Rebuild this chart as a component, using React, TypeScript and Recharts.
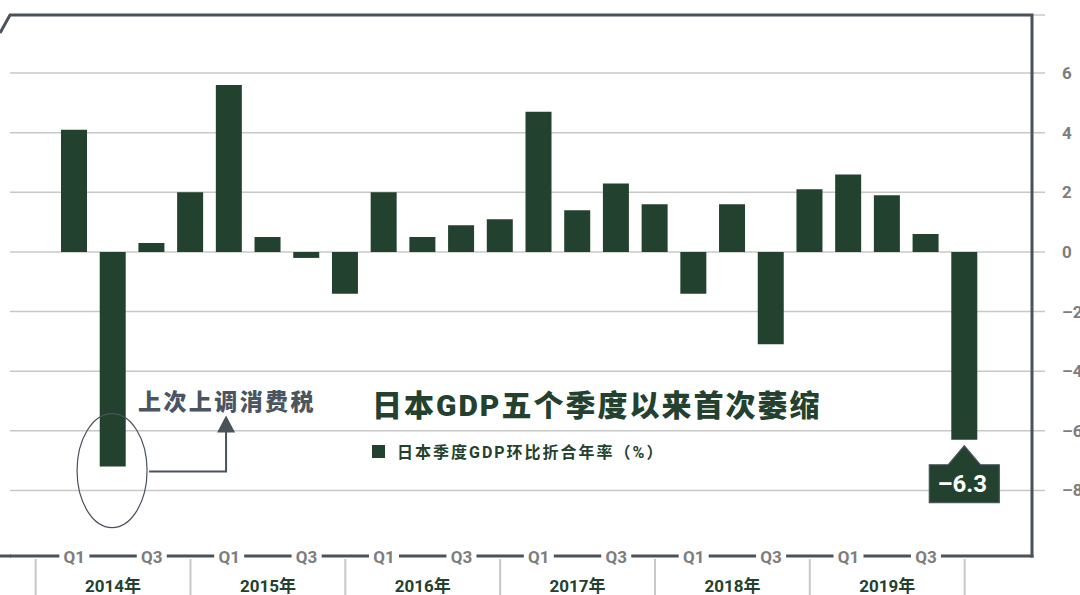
import React from 'react';
import { BarChart, Bar, XAxis, YAxis, CartesianGrid, ReferenceDot, LabelList, Legend } from 'recharts';

// ---------- data ----------
const quarters = [
  '2014Q1', '2014Q2', '2014Q3', '2014Q4',
  '2015Q1', '2015Q2', '2015Q3', '2015Q4',
  '2016Q1', '2016Q2', '2016Q3', '2016Q4',
  '2017Q1', '2017Q2', '2017Q3', '2017Q4',
  '2018Q1', '2018Q2', '2018Q3', '2018Q4',
  '2019Q1', '2019Q2', '2019Q3', '2019Q4',
];
const gdpGrowth = [
  4.1, -7.2, 0.3, 2.0,
  5.6, 0.5, -0.2, -1.4,
  2.0, 0.5, 0.9, 1.1,
  4.7, 1.4, 2.3, 1.6,
  -1.4, 1.6, -3.1, 2.1,
  2.6, 1.9, 0.6, -6.3,
];
const yearLabels = ['2014年', '2015年', '2016年', '2017年', '2018年', '2019年'];
const yTicks = [-8, -6, -4, -2, 0, 2, 4, 6];
const yDomain = [-10.2, 7.95];
const chartTitle = '日本GDP五个季度以来首次萎缩';
const seriesName = '日本季度GDP环比折合年率（%）';
const annotationText = '上次上调消费税';
const annotatedQuarter = '2014Q2';

const data = quarters.map((q, i) => ({ q, v: gdpGrowth[i] }));

// ---------- layout & style ----------
const W = 1080;
const H = 595;
const MARGIN = { top: 15, right: 0, bottom: 0, left: 10 };
const Y_AXIS_W = 35;
const X_AXIS_H = 39;
const PLOT_L = MARGIN.left;
const PLOT_R = W - Y_AXIS_W;
const PLOT_T = MARGIN.top;
const PLOT_B = H - X_AXIS_H;
const PAD_L = 45;
const PAD_R = 61;
const SLOT = (PLOT_R - PLOT_L - PAD_L - PAD_R) / quarters.length;
const FRAME_R = 1032;

const BAR = '#23412f';
const FRAME = '#4a525c';
const GRID = '#c8c8c8';
const TICK_GRAY = '#7d7d7d';
const GREEN_TEXT = '#23412e';
const NOTE = '#4a5560';
const FONT = "Roboto, 'Noto Sans CJK SC', sans-serif";

const fmt = (v: number) => (v < 0 ? `\u2013${Math.abs(v)}` : `${v}`);

const XTick = (props: any) => {
  const { x, payload } = props;
  const i = quarters.indexOf(payload.value);
  const qn = i % 4;
  const yr = Math.floor(i / 4);
  const out: React.ReactNode[] = [];
  if (qn === 0 || qn === 2) {
    out.push(<rect key="bg" x={x - 15} y={PLOT_B - 10} width={30} height={20} fill="#fff" />);
    out.push(
      <text key="q" x={x} y={PLOT_B + 1} dy="0.35em" textAnchor="middle" fontFamily={FONT}
        fontWeight={700} fontSize={17} fill={TICK_GRAY}>{payload.value.slice(4)}</text>
    );
  }
  if (qn === 1) {
    out.push(
      <text key="y" x={x} y={H - 3} textAnchor="middle" fontFamily={FONT}
        fontWeight={700} fontSize={17} fill={GREEN_TEXT}>{yearLabels[yr]}</text>
    );
  }
  if (qn === 3) {
    out.push(<line key="s" x1={x} x2={x} y1={PLOT_B + 3} y2={H} stroke={GRID} strokeWidth={2} />);
  }
  if (i === 0) {
    out.push(<line key="s0" x1={x - SLOT} x2={x - SLOT} y1={PLOT_B + 3} y2={H} stroke={GRID} strokeWidth={2} />);
  }
  return <g>{out}</g>;
};

const YTick = (props: any) => {
  const { y, payload } = props;
  return (
    <text x={PLOT_R + 17} y={y} dy="0.35em" textAnchor="start" fontFamily={FONT}
      fontWeight={700} fontSize={17} fill={TICK_GRAY}>{fmt(payload.value)}</text>
  );
};

const ValueTag = (props: any) => {
  const { index, value } = props;
  if (index !== quarters.length - 1) return null;
  const x = Number(props.x);
  const y = Number(props.y);
  const w = Number(props.width);
  const h = Number(props.height);
  const cx = x + w / 2;
  const end = Math.max(y, y + h);
  const d = `M${cx - 35},${end + 25} L${cx - 16},${end + 25} L${cx},${end + 6} L${cx + 16},${end + 25} L${cx + 35},${end + 25} L${cx + 35},${end + 63} L${cx - 35},${end + 63} Z`;
  return (
    <g>
      <path d={d} fill={BAR} stroke={FRAME} strokeWidth={1.2} />
      <text x={cx - 2} y={end + 44} dy="0.35em" textAnchor="middle" fontFamily={FONT}
        fontWeight={700} fontSize={24} fill="#fff">{fmt(value)}</text>
    </g>
  );
};

const NoteShape = (props: any) => {
  const { cx, cy } = props;
  return (
    <g>
      <ellipse cx={cx - 1} cy={cy + 4} rx={35} ry={57} fill="none" stroke={FRAME} strokeWidth={1.2} />
      <polyline points={`${cx + 36},${cy + 5} ${cx + 113},${cy + 5} ${cx + 113},${cy - 35}`}
        fill="none" stroke={FRAME} strokeWidth={2} />
      <polygon points={`${cx + 113},${cy - 51} ${cx + 104},${cy - 34} ${cx + 122},${cy - 34}`} fill={FRAME} />
      <text x={cx + 25} y={cy - 57} fontFamily={FONT} fontWeight={900} fontSize={23}
        letterSpacing={2.4} fill={NOTE}>{annotationText}</text>
    </g>
  );
};

const TitleLegend = () => (
  <div style={{ fontFamily: FONT, color: GREEN_TEXT, whiteSpace: 'nowrap' }}>
    <div style={{ fontSize: 30, fontWeight: 900, lineHeight: '36px', letterSpacing: 2 }}>{chartTitle}</div>
    <div style={{ display: 'flex', alignItems: 'center', marginTop: 15, fontSize: 16, fontWeight: 700, letterSpacing: 2 }}>
      <span style={{ display: 'inline-block', width: 13, height: 13, background: BAR, marginRight: 12 }} />
      <span>{seriesName}</span>
    </div>
  </div>
);

export default function App() {
  const noteValue = gdpGrowth[quarters.indexOf(annotatedQuarter)];
  return (
    <div style={{ position: 'absolute', left: 0, top: 0, width: W, height: H, background: '#fff', overflow: 'hidden' }}>
      <div style={{ position: 'absolute', left: 0, top: 0 }}>
        <BarChart width={W} height={H} data={data} margin={MARGIN}>
          <CartesianGrid vertical={false} stroke={GRID} strokeWidth={1.5} />
          <XAxis dataKey="q" height={X_AXIS_H} interval={0} axisLine={{ stroke: FRAME, strokeWidth: 3 }} tickLine={false}
            tickSize={0} tickMargin={0} padding={{ left: PAD_L, right: PAD_R }} tick={<XTick />} />
          <YAxis orientation="right" width={Y_AXIS_W} domain={yDomain} ticks={yTicks}
            allowDataOverflow axisLine={false} tickLine={false} tick={<YTick />} />
          <Legend verticalAlign="middle" align="center" layout="horizontal"
            wrapperStyle={{ left: 372, top: 388, width: 520 }} content={() => <TitleLegend />} />
          <Bar dataKey="v" name={seriesName} fill={BAR} barSize={26} isAnimationActive={false}>
            <LabelList dataKey="v" content={<ValueTag />} />
          </Bar>
          <ReferenceDot x={annotatedQuarter} y={noteValue} r={0} ifOverflow="visible" shape={<NoteShape />} />
        </BarChart>
      </div>
      <svg width={W} height={H} style={{ position: 'absolute', left: 0, top: 0, pointerEvents: 'none' }}>
        <rect x={FRAME_R + 1.5} y={PLOT_B - 2} width={W - FRAME_R} height={4} fill="#fff" />
        <line x1={0} x2={PLOT_L + 1} y1={PLOT_B} y2={PLOT_B} stroke={FRAME} strokeWidth={3} />
        <polyline points={`0,33 ${PLOT_L},${PLOT_T} ${FRAME_R},${PLOT_T} ${FRAME_R},${PLOT_B + 1.5}`}
          fill="none" stroke={FRAME} strokeWidth={3} />
      </svg>
    </div>
  );
}
